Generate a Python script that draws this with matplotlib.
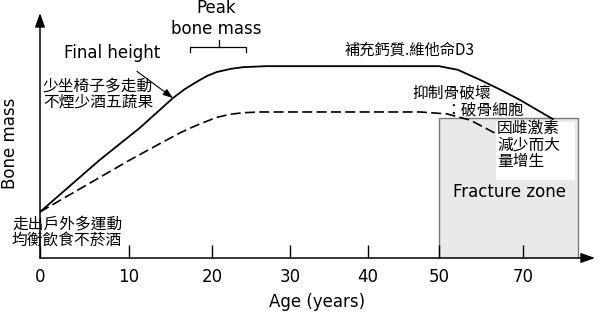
import numpy as np
import matplotlib
matplotlib.use("Agg")
import matplotlib.pyplot as plt
from matplotlib.patches import Rectangle

plt.rcParams["font.family"] = ["DejaVu Sans", "Noto Sans CJK TC"]
CJK = ["Noto Sans CJK TC", "DejaVu Sans"]

# ---------------------------------------------------------------------------
# Data
# ---------------------------------------------------------------------------

# the age axis is not linear: these knots define its spacing
SCALE_AGES = [-10, 0, 10, 20, 30, 40, 50, 70, 100]
SCALE_UNITS = [-49, 40, 129, 212, 290, 368, 439, 523, 649]

AGE_TICKS = [0, 10, 20, 30, 40, 50, 70]
AGE_TICK_LABELS = ["0", "10", "20", "30", "40", "50", "70"]

# bone mass (arbitrary units, 0-100)
final_age = [0, 6.7, 11.3, 15.3, 16.75, 18.2, 19.4, 20.6, 22.4, 24.0, 27.0,
             50.0, 54.5, 59.8, 64.5, 69.3, 77.1]
final_mass = [18.8, 40.0, 53.1, 65.3, 69.0, 72.0, 74.3, 75.9, 77.2, 77.9, 78.3,
              78.3, 76.8, 72.7, 68.8, 64.5, 56.7]

low_age = [0, 10.1, 14.0, 16.1, 17.5, 18.6, 20.6, 22.4, 24.0, 26.2,
           47.4, 51.9, 57.4, 63.3]
low_mass = [18.8, 40.0, 47.2, 51.0, 53.2, 54.8, 57.4, 58.7, 59.3, 59.6,
            59.6, 58.8, 56.3, 51.0]

FRACTURE_START = 50
FRACTURE_END = 83.1
FRACTURE_LEVEL = 57.1

PEAK_FROM = 17.3
PEAK_TO = 24.4


def age_forward(a):
    return np.interp(a, SCALE_AGES, SCALE_UNITS)


def age_inverse(p):
    return np.interp(p, SCALE_UNITS, SCALE_AGES)


# ---------------------------------------------------------------------------
# Figure
# ---------------------------------------------------------------------------

fig = plt.figure(figsize=(6, 3.23), dpi=100)
ax = fig.add_axes([40 / 600, 65 / 323, 555 / 600, 245 / 323])
ax.set_xscale("function", functions=(age_forward, age_inverse))
ax.set_xlim(0, float(age_inverse(595)))
ax.set_ylim(0, 100)

for s in ax.spines.values():
    s.set_visible(False)

# fracture zone
ax.add_patch(Rectangle((FRACTURE_START, 0), FRACTURE_END - FRACTURE_START, FRACTURE_LEVEL,
                       facecolor="#e9e9e9", edgecolor="#7a7a7a", linewidth=1.0, zorder=1))
ax.add_patch(Rectangle((63.6, 31.8), 82.4 - 63.6, 55.6 - 31.8,
                       facecolor="white", edgecolor="none", zorder=1.5))

ax.plot(final_age, final_mass, color="black", linewidth=1.3, zorder=3)
ax.plot(low_age, low_mass, color="black", linewidth=1.2, dashes=(6, 2.6), zorder=3)

# axes with arrow heads
arrow = dict(arrowstyle="-|>,head_length=0.7,head_width=0.25", color="black",
             linewidth=1.1, shrinkA=0, shrinkB=0, mutation_scale=12)
ax.annotate("", xy=(1, 0), xytext=(0, 0), xycoords="axes fraction",
            textcoords="axes fraction", arrowprops=arrow, annotation_clip=False)
ax.annotate("", xy=(0, 1), xytext=(0, 0), xycoords="axes fraction",
            textcoords="axes fraction", arrowprops=arrow, annotation_clip=False)

ax.set_xticks(AGE_TICKS, AGE_TICK_LABELS)
ax.set_yticks([])
ax.tick_params(axis="x", direction="in", length=9.5, width=1.0, pad=7, labelsize=12)
ax.set_xlabel("Age (years)", fontsize=12, labelpad=5)
ax.set_ylabel("Bone mass", fontsize=12)
ax.yaxis.set_label_coords(-0.037, 0.47)

# peak bone mass bracket
mid = (PEAK_FROM + PEAK_TO) / 2
ax.plot([PEAK_FROM, PEAK_FROM, PEAK_TO, PEAK_TO], [84.1, 86.1, 86.1, 84.1],
        color="black", linewidth=0.9, clip_on=False)
ax.plot([mid, mid], [86.1, 89.0], color="black", linewidth=0.9, clip_on=False)
ax.text(20.6, 102.0, "Peak", ha="center", va="center", fontsize=12)
ax.text(20.6, 93.6, "bone mass", ha="center", va="center", fontsize=12)

# final height label
ax.annotate("Final height", xy=(15.3, 65.3), xytext=(8.1, 83.7),
            ha="center", va="center", fontsize=12,
            arrowprops=dict(arrowstyle="-|>,head_length=0.5,head_width=0.18",
                            color="black", linewidth=0.8, shrinkA=8, shrinkB=0,
                            mutation_scale=12))

# notes
ax.text(0.34, 67.0, "少坐椅子多走動\n不煙少酒五蔬果", family=CJK, fontsize=11.3,
        ha="left", va="center", linespacing=0.95)
ax.text(-3.15, 10.6, "走出戶外多運動\n均衡飲食不菸酒", family=CJK, fontsize=11.3,
        ha="left", va="center", linespacing=0.95)
ax.text(37.05, 84.9, "補充鈣質.維他命D3", family=CJK, fontsize=11.0,
        ha="left", va="center")
ax.text(46.2, 67.3, "抑制骨破壞", family=CJK, fontsize=11.3,
        ha="left", va="center")
ax.text(51.4, 60.4, "：破骨細胞", family=CJK, fontsize=11.3,
        ha="left", va="center")
ax.text(63.8, 46.1, "因雌激素\n減少而大\n量增生", family=CJK, fontsize=11.3,
        ha="left", va="center", linespacing=0.98, zorder=4)
ax.text(66.9, 26.9, "Fracture zone", ha="center", va="center", fontsize=12, zorder=4)

fig.savefig("out.png", dpi=100)
